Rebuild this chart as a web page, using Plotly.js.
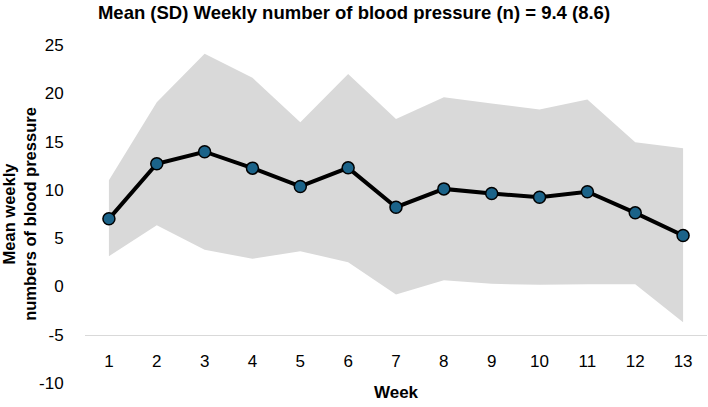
<!DOCTYPE html>
<html>
<head>
<meta charset="utf-8">
<script src="https://cdn.plot.ly/plotly-3.0.1.min.js"></script>
<style>html,body{margin:0;padding:0;background:#fff;}#chart{width:708px;height:407px;}</style>
</head>
<body>
<div id="chart"></div>
<script>
const weeks = [1,2,3,4,5,6,7,8,9,10,11,12,13];
const meanValues = [7.0,12.7,13.95,12.25,10.35,12.28,8.2,10.1,9.62,9.24,9.8,7.62,5.27];
const upperValues = [11.0,19.08,24.1,21.6,17.0,22.0,17.35,19.6,18.94,18.32,19.36,14.94,14.32];
const lowerValues = [3.13,6.34,3.8,2.86,3.65,2.5,-0.84,0.64,0.27,0.17,0.23,0.23,-3.7];
const yTicks = [-10,-5,0,5,10,15,20,25];

const FONT = 'Liberation Sans, Arial, sans-serif';

const traces = [
  {x: weeks, y: lowerValues, type:'scatter', mode:'lines', line:{width:0, color:'rgba(0,0,0,0)'}, showlegend:false, hoverinfo:'skip'},
  {x: weeks, y: upperValues, type:'scatter', mode:'lines', fill:'tonexty', fillcolor:'#d9d9d9', line:{width:0, color:'rgba(0,0,0,0)'}, showlegend:false, hoverinfo:'skip'},
  {x: weeks, y: meanValues, type:'scatter', mode:'lines+markers', line:{color:'#000', width:4},
   marker:{size:12, color:'#1b6389', line:{color:'#000', width:1.5}}, showlegend:false}
];

const layout = {
  width:708, height:407,
  margin:{l:85, r:1, t:45, b:24},
  paper_bgcolor:'#fff', plot_bgcolor:'#fff',
  font:{family:FONT, color:'#000'},
  title:{text:'<b>Mean (SD) Weekly number of blood pressure (n) = 9.4 (8.6)</b>', font:{size:18.5, family:FONT, color:'#000'}, x:0.5, xanchor:'center', y:0.97, yanchor:'middle'},
  xaxis:{
    range:[0.5,13.5], tickvals:weeks, ticktext:weeks.map(String),
    anchor:'free', position:(5/35),
    showline:true, linecolor:'#d9d9d9', linewidth:1.5,
    showgrid:false, zeroline:false, ticks:'outside', ticklen:10, tickcolor:'rgba(0,0,0,0)',
    tickfont:{size:17, family:FONT, color:'#000'},
    title:{text:'<b>Week</b>', font:{size:17, family:FONT, color:'#000'}, standoff:16},
    automargin:false
  },
  yaxis:{
    range:[-10,25], tickvals:yTicks, ticktext:yTicks.map(String),
    showline:false, showgrid:false, zeroline:false,
    ticks:'outside', ticklen:17, tickcolor:'rgba(0,0,0,0)',
    tickfont:{size:17, family:FONT, color:'#000'},
    title:{text:'<b>Mean weekly<br>numbers of blood pressure</b>', font:{size:16.5, family:FONT, color:'#000'}, standoff:2},
    automargin:false
  }
};

Plotly.newPlot('chart', traces, layout, {displayModeBar:false, staticPlot:true});
</script>
</body>
</html>
